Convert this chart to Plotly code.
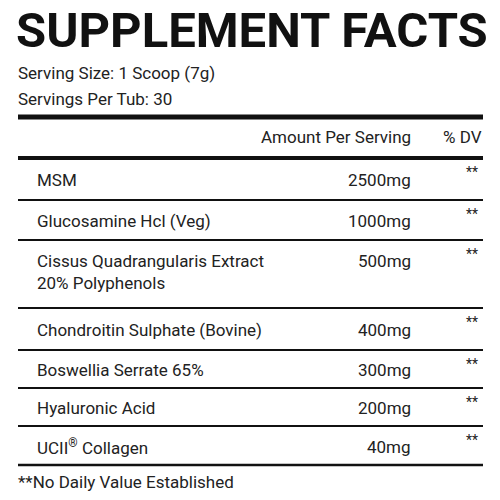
import plotly.graph_objects as go

title = "SUPPLEMENT FACTS"
serving_size = "Serving Size: 1 Scoop (7g)"
servings_per = "Servings Per Tub: 30"
header_amount = "Amount Per Serving"
header_dv = "% DV"
ingredients = ["MSM", "Glucosamine Hcl (Veg)", "Cissus Quadrangularis Extract<br>20% Polyphenols",
               "Chondroitin Sulphate (Bovine)", "Boswellia Serrate 65%", "Hyaluronic Acid",
               "UCII<sup>®</sup> Collagen"]
amounts = ["2500mg", "1000mg", "500mg", "400mg", "300mg", "200mg", "40mg"]
dv = ["**"] * 7
footnote = "**No Daily Value Established"

# layout positions (pixels)
row_tops = [158, 200, 240, 308, 350, 388, 426]
row_bottoms = row_tops[1:] + [465]
FONT = "Roboto"

fig = go.Figure()
ann = []
def t(x, y, s, size=17, anchor="left", ya="middle", fam=FONT, color="#222"):
    ann.append(dict(x=x, y=y, text=s, showarrow=False, xanchor=anchor, yanchor=ya,
                    font=dict(family=fam, size=size, color=color), xref="x", yref="y", align="left"))

t(14, 30, "<b>" + title + "</b>", size=49, fam="Roboto", color="#111")
t(16, 73, serving_size)
t(16, 99, servings_per)
t(413, 137, header_amount, anchor="right")
t(484, 137, header_dv, anchor="right")
for i, (name, amt, d) in enumerate(zip(ingredients, amounts, dv)):
    top = row_tops[i]
    if "<br>" in name:
        t(35, top + 9, name, ya="top")
        t(413, top + 9, amt, anchor="right", ya="top")
    else:
        yc = (top + row_bottoms[i]) / 2 + 1
        t(35, yc, name)
        t(413, yc, amt, anchor="right")
    t(472, top + 14, d, size=14, anchor="center")
t(16, 482, footnote)

shapes = []
def hline(y, w):
    shapes.append(dict(type="line", x0=18, x1=483, y0=y, y1=y, xref="x", yref="y",
                       line=dict(color="#111", width=w)))
hline(117, 5)
hline(158, 4)
for y in row_tops[1:]:
    hline(y, 2)
hline(465, 2.5)

fig.update_layout(width=484, height=484, margin=dict(l=0, r=0, t=0, b=0),
                  paper_bgcolor="white", plot_bgcolor="white",
                  xaxis=dict(range=[8, 492], visible=False, fixedrange=True),
                  yaxis=dict(range=[492, 8], visible=False, fixedrange=True),
                  annotations=ann, shapes=shapes, showlegend=False)
fig.write_html("out.html")
